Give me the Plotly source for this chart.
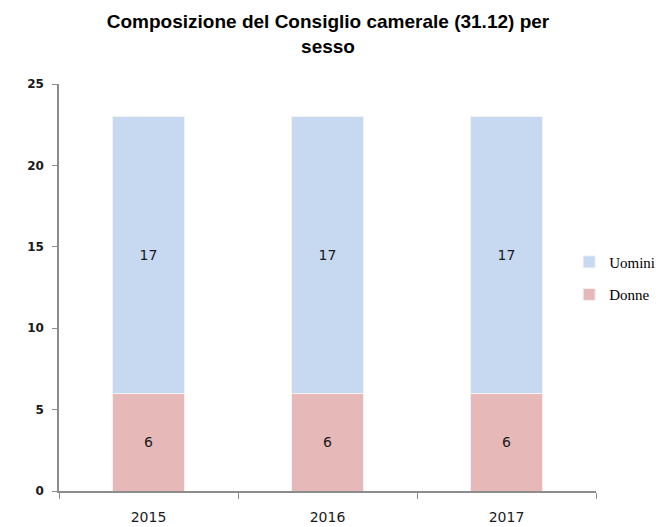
import plotly.graph_objects as go

anni = ["2015", "2016", "2017"]
donne = [6, 6, 6]
uomini = [17, 17, 17]
titolo = "Composizione del Consiglio camerale (31.12) per<br>sesso"

fig = go.Figure()
fig.add_trace(go.Bar(x=anni, y=donne, name="Donne", legendgroup="d", legendrank=2,
                     marker=dict(color="#E6B9B8", line=dict(color="#F2F2F2", width=1)),
                     text=donne, textposition="inside", insidetextanchor="middle",
                     textfont=dict(family="DejaVu Sans", size=14, color="#1a1a1a")))
fig.add_trace(go.Bar(x=anni, y=uomini, name="Uomini", legendgroup="u", legendrank=1,
                     marker=dict(color="#C6D9F1", line=dict(color="#F2F2F2", width=1)),
                     text=uomini, textposition="inside", insidetextanchor="middle",
                     textfont=dict(family="DejaVu Sans", size=14, color="#1a1a1a")))

fig.update_layout(
    barmode="stack",
    bargap=0.6,
    width=656, height=527,
    paper_bgcolor="white", plot_bgcolor="white",
    margin=dict(l=59, r=60, t=84, b=36, autoexpand=False),
    title=dict(text=titolo, x=0.5, xanchor="center", y=0.947, yanchor="top",
               font=dict(family="Liberation Sans", size=19, color="black", weight="bold")),
    legend=dict(x=0.95, xanchor="left", y=0.523, yanchor="middle", traceorder="grouped",
                font=dict(family="Liberation Serif", size=15, color="black"),
                itemwidth=30, tracegroupgap=10, bgcolor="rgba(0,0,0,0)"),
    uniformtext=dict(mode=False),
)
fig.update_xaxes(type="category", showline=True, linecolor="#8c8c8c", linewidth=1.5,
                 ticks="outside", tickson="boundaries", ticklen=6, tickcolor="#8c8c8c",
                 tickfont=dict(family="DejaVu Sans", size=14, color="#1a1a1a"),
                 ticklabelstandoff=12,
                 showgrid=False, zeroline=False, automargin=False)
fig.update_yaxes(range=[0, 25], dtick=5, showline=True, linecolor="#8c8c8c", linewidth=1.5,
                 ticks="outside", ticklen=5, tickcolor="#8c8c8c",
                 tickfont=dict(family="DejaVu Sans", size=12, color="#1a1a1a", weight="bold"),
                 ticklabelstandoff=6,
                 showgrid=False, zeroline=False, automargin=False)

fig.write_html("out.html", post_script="document.body.style.margin='0';",
               config={"displayModeBar": False})
